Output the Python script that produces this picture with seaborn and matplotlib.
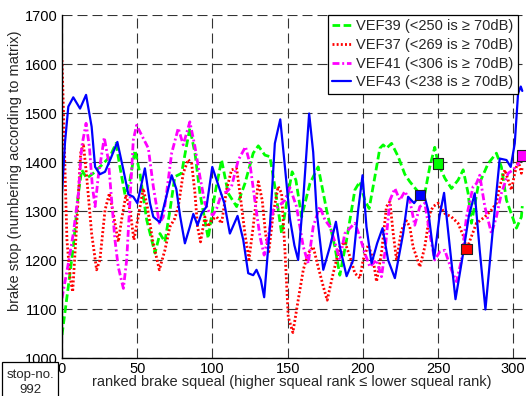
import numpy as np
import pandas as pd
import matplotlib
matplotlib.use("Agg")
import matplotlib.pyplot as plt
from matplotlib.patches import Rectangle
import seaborn as sns

# ---- data: ranked brake squeal vs. brake stop number ----
vef39_x = [0, 4.2, 7.5, 10.9, 13.1, 16.4, 20.8, 27.5, 31.9, 35.9, 38.5, 41.9, 45.2, 48.5, 51.8,
           56.3, 61.8, 65.1, 68.4, 71.8, 75, 79.5, 82, 85, 88.4, 91.7, 97.2, 101.7, 106.1, 110.5,
           116.1, 121.6, 127.1, 130.5, 134.9, 138.2, 141.5, 146, 150.4, 153, 155.5, 159.3, 164.8,
           170.3, 175.9, 181.4, 184.7, 189.2, 194.7, 198, 201.3, 204.2, 208, 211.3, 213.5, 215.7,
           219.1, 223.5, 227.9, 231.2, 236.8, 241.2, 244.5, 247.8, 250, 254.5, 258.9, 263.3,
           266.7, 270, 272.2, 276.6, 283.3, 288.8, 292.1, 295.5, 302.1, 305.4, 306]
vef39_y = [1047, 1146, 1227, 1336, 1384, 1367, 1377, 1397, 1411, 1438, 1390, 1333, 1363, 1424, 1377,
           1282, 1214, 1254, 1237, 1302, 1370, 1377, 1420, 1469, 1418, 1336, 1244, 1336, 1404, 1336,
           1309, 1356, 1418, 1433, 1414, 1411, 1350, 1254, 1336, 1380, 1363, 1288, 1356,
           1390, 1302, 1227, 1169, 1241, 1343, 1360, 1322, 1305, 1370, 1428, 1435, 1428,
           1438, 1411, 1375, 1360, 1339, 1336, 1390, 1430, 1397, 1367, 1346, 1363,
           1384, 1336, 1275, 1350, 1397, 1418, 1390, 1322, 1265, 1288, 1310]

vef37_x = [0, 1.2, 2.2, 3.3, 5.3, 7.1, 9.7, 12.4, 14.2, 16.4, 19.7, 23, 25.2, 28.6, 31.5, 34.1,
           37.4, 39.6, 42.5, 45.2, 47.8, 50.7, 54, 56.7, 60.2, 64.7, 68.4, 71.8, 75, 77.3, 80.6,
           83.9, 86.2, 88.4, 90.1, 92.1, 95, 97.2, 99.4, 102.8, 106.1, 109.4, 112.7, 116.1, 118.3,
           121.6, 124.3, 127.1, 130.5, 133.1, 135.3, 137.5, 140.4, 143.7, 146, 148.2, 150.4, 153.5,
           157, 160.4, 163.7, 167, 170.3, 173.7, 176.3, 180.3, 184.7, 188, 191.4, 194.7, 198,
           200.2, 203.6, 206.9, 209.1, 212.4, 215.7, 218, 220.2, 222.4, 225.7, 229, 231.2, 233.4,
           237.9, 241.2, 244.5, 246.7, 250, 254.5, 258.9, 263.3, 266.7, 269, 272.2, 275.5, 281.1,
           285.5, 288.8, 291, 294.4, 296.6, 298.8, 301, 303.2, 305.4, 306]
vef37_y = [1608, 1480, 1360, 1240, 1166, 1135, 1268, 1418, 1438, 1370, 1254, 1180, 1200, 1302, 1336, 1295,
           1237, 1282, 1333, 1302, 1241, 1288, 1346, 1309, 1241, 1180, 1220, 1268, 1285, 1309, 1377,
           1405, 1397, 1336, 1268, 1237, 1288, 1268, 1282, 1288, 1275, 1343, 1384, 1387, 1336,
           1254, 1201, 1268, 1360, 1322, 1254, 1217, 1295, 1350, 1336, 1220, 1084, 1052,
           1118, 1180, 1214, 1227, 1186, 1146, 1118, 1173, 1227, 1237, 1207, 1173, 1163,
           1200, 1231, 1200, 1156, 1214, 1309, 1319, 1254, 1200, 1261, 1280, 1268, 1227,
           1186, 1227, 1295, 1309, 1316, 1295, 1288, 1275, 1250, 1222, 1248, 1275, 1288,
           1302, 1316, 1350, 1384, 1363, 1343, 1377, 1404, 1377, 1390]

vef41_x = [0, 4.2, 7.5, 10.9, 13.1, 16, 18.2, 20.2, 22, 24.1, 28.1, 30.8, 33, 35.2, 37.4, 40.8,
           43, 45.2, 47.4, 49.6, 52.9, 57.4, 60.7, 64.7, 67.3, 69.5, 72.9, 77.3, 80.6, 85, 88.4,
           91.7, 95, 98.3, 100.5, 102.8, 106.1, 109.4, 112.7, 117.2, 122, 124.9, 128.2, 131.6,
           134.4, 137.1, 140.4, 143.7, 148.2, 151.5, 155.9, 160.4, 163.7, 167, 171.4, 174.8,
           178.1, 181.4, 184.7, 188, 191.4, 194.7, 198, 201.3, 204.7, 209.1, 212.4, 214.6, 218,
           221.3, 224.6, 227.9, 231.2, 234.5, 237.9, 241.2, 244.5, 247.8, 251.2, 254.5, 258.9,
           262.2, 265.6, 268.9, 273.3, 275.5, 277.7, 281.1, 285.5, 288.8, 292.1, 296.6, 299.9,
           303, 306]
vef41_y = [1122, 1193, 1254, 1336, 1431, 1479, 1431, 1350, 1309, 1370, 1450, 1404, 1322, 1241, 1186, 1142,
           1200, 1322, 1445, 1475, 1455, 1428, 1350, 1275, 1288, 1336, 1418, 1469, 1435, 1482, 1431,
           1370, 1316, 1295, 1292, 1305, 1336, 1339, 1350, 1404, 1431, 1397, 1322, 1248,
           1210, 1248, 1302, 1309, 1322, 1348, 1309, 1227, 1193, 1268, 1309, 1282,
           1268, 1237, 1200, 1254, 1265, 1275, 1248, 1214, 1186, 1200, 1166, 1214, 1322,
           1346, 1322, 1340, 1322, 1271, 1309, 1316, 1254, 1200, 1217, 1220, 1180,
           1156, 1200, 1288, 1350, 1356, 1373, 1309, 1254, 1288, 1336, 1377, 1384,
           1395, 1413]

vef43_x = [0, 2, 4.2, 7.5, 12, 16, 19.7, 22, 25.2, 28.6, 32.5, 36.8, 40.8, 44.1, 47.4, 50.1, 55.1,
           58.5, 60.7, 65.1, 69, 72.9, 76, 78.5, 81.7, 85, 87.3, 90.1, 92.8, 96.1, 99.9, 103.9,
           107.9, 111.6, 116.7, 120.5, 123.8, 127.1, 129.3, 132.2, 134.4, 138.2, 141.5, 145.1,
           148.2, 151.5, 154.5, 157, 160.5, 164.3, 167, 169.2, 173.7, 178.1, 182.1, 184.7, 189.2,
           193.6, 196.9, 199.8, 202.4, 205.8, 209.5, 213.1, 216.8, 221.3, 226.8, 230.1, 234.1,
           238, 240.1, 243.4, 247.4, 251, 254, 257.8, 261.6, 266.7, 270.5, 274.4, 277.7, 281.5,
           286.6, 291, 295.5, 298.3, 301, 303.2, 305, 306]
vef43_y = [1337, 1440, 1513, 1532, 1509, 1537, 1472, 1390, 1375, 1380, 1408, 1441, 1384, 1334, 1329, 1316, 1387,
           1316, 1288, 1277, 1325, 1373, 1345, 1290, 1234, 1268, 1294, 1271, 1295, 1309, 1390, 1353,
           1316, 1254, 1290, 1241, 1173, 1169, 1180, 1159, 1124, 1268, 1438, 1487,
           1390, 1285, 1230, 1200, 1330, 1499, 1420, 1302, 1180, 1227, 1278, 1227, 1167,
           1200, 1302, 1373, 1268, 1193, 1234, 1265, 1200, 1163, 1254, 1329, 1316,
           1333, 1341, 1302, 1203, 1290, 1337, 1227, 1120, 1214, 1290, 1336, 1220, 1099,
           1268, 1407, 1404, 1390, 1438, 1540, 1554, 1545]

series = ["VEF39", "VEF37", "VEF41", "VEF43"]
limits = [250, 269, 306, 238]          # rank below which squeal is >= 70 dB
labels = [f"{s} (<{n} is \u2265 70dB)" for s, n in zip(series, limits)]

xs = [vef39_x, vef37_x, vef41_x, vef43_x]
ys = [vef39_y, vef37_y, vef41_y, vef43_y]

# ---- styling ----
sns.set_style("white")
plt.rcParams["font.family"] = ["Liberation Sans", "DejaVu Sans"]
plt.rcParams["lines.scale_dashes"] = False

colors = {"VEF39": "#00ff00", "VEF37": "#ff0000", "VEF41": "#ff00ff", "VEF43": "#0000ff"}
dashes = {"VEF39": (5.5, 2.5), "VEF37": (1.4, 1.6), "VEF41": (5, 2, 1.4, 2), "VEF43": ""}
widths = {"VEF39": 2.0, "VEF37": 2.0, "VEF41": 2.0, "VEF43": 1.6}

df = pd.concat([pd.DataFrame({"rank": x, "stop": y, "series": s})
                for s, x, y in zip(series, xs, ys)], ignore_index=True)

fig = plt.figure(figsize=(5.26, 3.96), dpi=100)
W, H = 526, 396
AX_L, AX_R, AX_T, AX_B = 62, 528, 15, 358
ax = fig.add_axes([AX_L / W, 1 - AX_B / H, (AX_R - AX_L) / W, (AX_B - AX_T) / H])

ax.set_xlim(0, 309.8)
ax.set_ylim(1000, 1700)
ax.set_xticks(np.arange(0, 301, 50))
ax.set_yticks(np.arange(1000, 1701, 100))
ax.grid(True, color="#333333", linewidth=0.8, linestyle=(0, (7.2, 3.6)))
ax.set_axisbelow(True)

sns.lineplot(data=df, x="rank", y="stop", hue="series", style="series", size="series",
             hue_order=series, style_order=series, size_order=series,
             palette=colors, dashes=dashes, sizes=widths,
             estimator=None, sort=True, legend=False, ax=ax)

# boundary markers sit on each curve at its 70 dB limit
mk = pd.DataFrame({"rank": limits,
                   "stop": [np.interp(n, x, y) for n, x, y in zip(limits, xs, ys)],
                   "series": series})
sns.scatterplot(data=mk, x="rank", y="stop", hue="series", palette=colors, marker="s",
                s=55, edgecolor="#202020", linewidth=0.8, legend=False, zorder=6, ax=ax,
                clip_on=False)

for side in ["top", "right"]:
    ax.spines[side].set_visible(False)
for side in ["left", "bottom"]:
    ax.spines[side].set_color("black")
    ax.spines[side].set_linewidth(1.0)

ax.tick_params(direction="in", length=4, width=0.8, colors="black",
               labelsize=10.5, pad=3)
ax.set_xlabel("ranked brake squeal (higher squeal rank \u2264 lower squeal rank)", fontsize=10.5)
ax.set_ylabel("brake stop (numbering according to matrix)", fontsize=10.5)
ax.xaxis.set_label_coords((292 - AX_L) / (AX_R - AX_L), -0.05)
ax.yaxis.set_label_coords(-0.086, (AX_B - 171) / (AX_B - AX_T))

handles = ax.get_lines()[-4:]
leg = ax.legend(handles, labels, loc="upper right",
                bbox_to_anchor=((518 - AX_L) / (AX_R - AX_L), 1.0),
                borderaxespad=0, fontsize=10.5, frameon=True, fancybox=False,
                edgecolor="black", framealpha=1, handlelength=1.3, handletextpad=0.35,
                borderpad=0.3, labelspacing=0.32)
leg.get_frame().set_linewidth(0.9)

# stop number tag in the lower-left corner
fig.patches.append(Rectangle((2 / W, -0.02), 56 / W, (396 - 362) / H + 0.02,
                             transform=fig.transFigure, facecolor="white",
                             edgecolor="black", linewidth=0.9))
fig.text(30 / W, 1 - 375 / H, "stop-no.", ha="center", va="center", fontsize=9.5)
fig.text(30 / W, 1 - 390 / H, "992", ha="center", va="center", fontsize=9.5)

fig.savefig("out.png", dpi=100)
